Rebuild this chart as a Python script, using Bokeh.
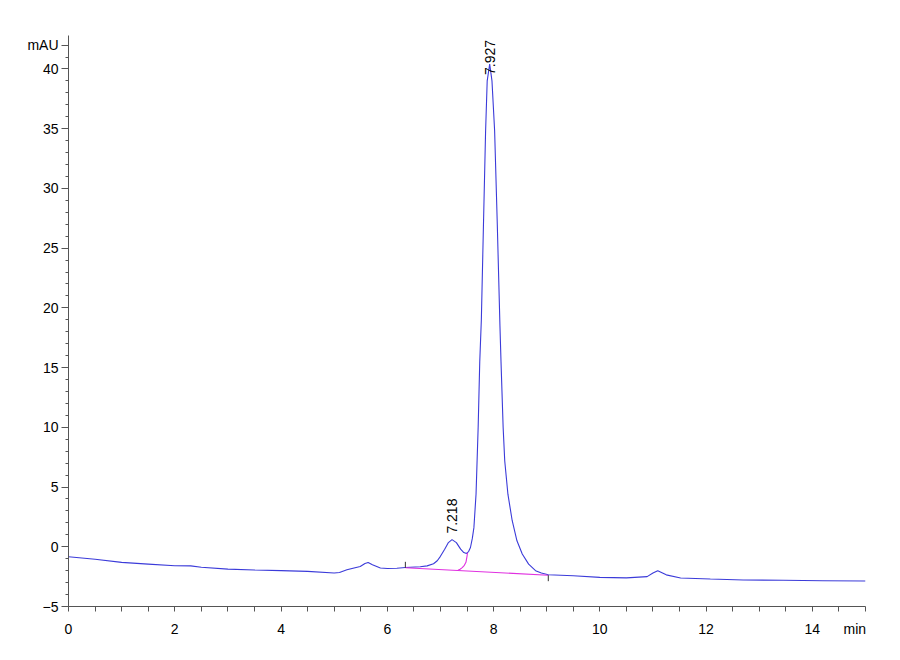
import math
from bokeh.plotting import figure
from bokeh.models import FixedTicker, Range1d, Label
from bokeh.embed import file_html
from bokeh.resources import INLINE

# Chromatogram trace (time in min, signal in mAU)
time_min = [0.0, 0.5, 1.0, 1.5, 2.0, 2.3, 2.5, 3.0, 3.5, 4.0, 4.5, 5.0, 5.1, 5.24, 5.49,
            5.58, 5.64, 5.72, 5.87, 6.0, 6.18, 6.34, 6.62, 6.75, 6.87, 6.94, 7.0, 7.08,
            7.15, 7.218, 7.3, 7.38, 7.44, 7.49, 7.53, 7.565, 7.6, 7.63, 7.67, 7.71, 7.74,
            7.77, 7.81, 7.85, 7.88, 7.927, 7.97, 8.02, 8.07, 8.12, 8.14, 8.18, 8.21,
            8.27, 8.35, 8.44, 8.54, 8.66, 8.79, 8.9, 9.03,
            9.5, 10.0, 10.5, 10.89, 11.0, 11.09, 11.25, 11.52, 12.08, 12.7, 13.45,
            14.2, 15.0]
signal_mau = [-0.84, -1.05, -1.31, -1.45, -1.59, -1.6, -1.72, -1.87, -1.95, -2.0, -2.06,
              -2.2, -2.15, -1.92, -1.65, -1.4, -1.31, -1.5, -1.78, -1.82, -1.8, -1.73,
              -1.67, -1.6, -1.42, -1.17, -0.8, -0.2, 0.35, 0.6, 0.35, -0.2, -0.48, -0.56,
              -0.4, -0.06, 0.7, 1.6, 4.4, 10.0, 15.5, 19.0, 27.0, 34.8, 39.0, 40.4,
              39.0, 34.8, 27.0, 18.5, 15.5, 10.0, 7.2, 4.4, 2.2, 0.5, -0.6, -1.45, -2.0,
              -2.2, -2.34, -2.42, -2.56, -2.6, -2.5, -2.2, -2.0,
              -2.35, -2.62, -2.7, -2.78, -2.8, -2.84, -2.87]

# Integration baseline (pink) and its start/end markers
base_t = [6.34, 9.03]
base_y = [-1.76, -2.38]
base_mark_dir = [1, -1]
# Skim curve between the two peaks
skim_t = [7.51, 7.5, 7.48, 7.45, 7.41, 7.37, 7.33]
skim_y = [-0.5, -0.8, -1.3, -1.55, -1.75, -1.88, -1.97]

# Peak annotations
peak_rt = [7.218, 7.927]
peak_label = ["7.218", "7.927"]
peak_top = [0.6, 39.5]

x_ticks = [0, 2, 4, 6, 8, 10, 12, 14]
x_minor = [i * 0.5 for i in range(31)]
x_unit_pos, x_unit = 14.8, "min"
y_ticks = [-5, 0, 5, 10, 15, 20, 25, 30, 35, 40]
y_minor = list(range(-5, 43))
y_unit_pos, y_unit = 42, "mAU"

FONT = "Liberation Sans"
AX = "#555555"

p = figure(frame_width=797, frame_height=571, width=884, height=644,
           min_border_left=68, min_border_right=19, min_border_top=35, min_border_bottom=38,
           output_backend="svg", toolbar_location=None,
           x_range=Range1d(0, 15), y_range=Range1d(-5, 42.8))
p.outline_line_color = None
p.grid.visible = False

xa = p.xaxis[0]
xa.ticker = FixedTicker(ticks=x_ticks + [x_unit_pos], minor_ticks=x_minor)
xa.major_label_overrides = {x_unit_pos: x_unit}
xa.major_tick_out = 0
xa.major_tick_in = 0
xa.minor_tick_out = 5
xa.minor_tick_in = 0
xa.major_label_standoff = 9

ya = p.yaxis[0]
ya.ticker = FixedTicker(ticks=y_ticks + [y_unit_pos], minor_ticks=y_minor)
ya.major_label_overrides = {y_unit_pos: y_unit}
ya.major_tick_out = 7
ya.major_tick_in = 0
ya.minor_tick_out = 3
ya.minor_tick_in = 0
ya.major_label_standoff = 3

for ax in (xa, ya):
    ax.axis_line_color = AX
    ax.major_tick_line_color = AX
    ax.minor_tick_line_color = AX
    ax.major_label_text_font = FONT
    ax.major_label_text_font_size = "14px"
    ax.major_label_text_color = "black"

p.line(time_min, signal_mau, line_color="#3b3bd9", line_width=1.1)
p.line(base_t, base_y, line_color="#e030e0", line_width=1.1)
p.line(skim_t, skim_y, line_color="#e030e0", line_width=1.1)
p.segment(x0=base_t, y0=base_y, x1=base_t,
          y1=[y + 0.5 * d for y, d in zip(base_y, base_mark_dir)],
          line_color="#333333", line_width=1)

for rt, lab, top in zip(peak_rt, peak_label, peak_top):
    p.add_layout(Label(x=rt, y=top, text=lab, angle=math.pi / 2, y_offset=6 if top < 10 else 0,
                       text_align="left", text_baseline="middle",
                       text_font=FONT, text_font_size="14px", text_color="black"))

open("out.html", "w").write(file_html(p, INLINE))
